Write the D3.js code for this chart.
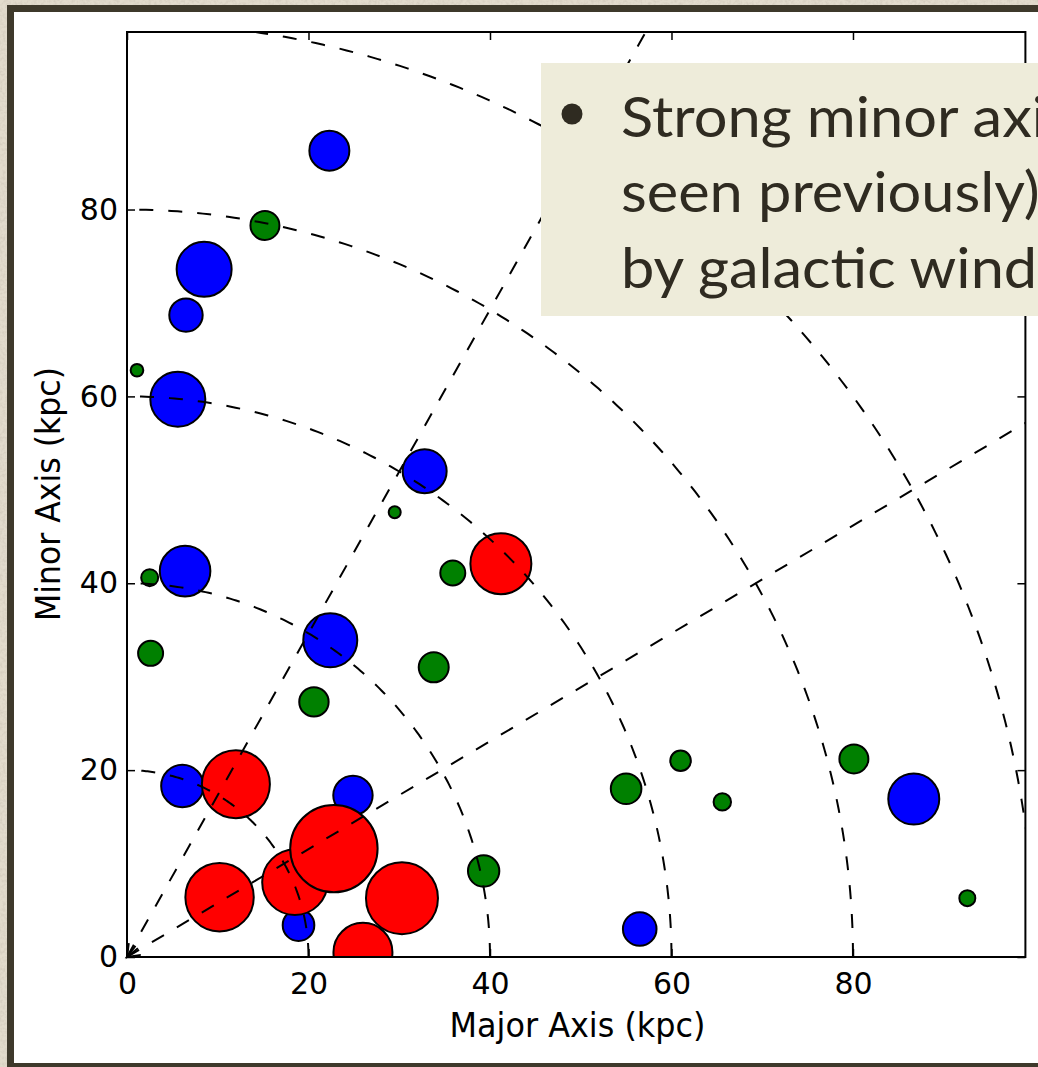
<!DOCTYPE html>
<html>
<head>
<meta charset="utf-8">
<script src="https://cdn.jsdelivr.net/npm/d3@7"></script>
<style>
  html, body { margin: 0; padding: 0; background: #e1dacb; }
  svg { display: block; }
</style>
</head>
<body>
<svg id="slide" width="1038" height="1067"></svg>
<script>
// Absorber positions projected on the galaxy's axes (kpc)
const majorAxis = [22.3, 15.2, 8.5, 6.5, 1.1, 5.6, 32.8, 29.5, 41.2, 35.9, 6.4, 2.5, 2.6, 22.4, 33.8, 20.6, 6.1, 12.0, 24.9, 22.8, 18.5, 10.2, 30.3, 18.9, 26.0, 39.3, 55.0, 61.0, 65.6, 80.1, 86.7, 92.6, 56.5];
const minorAxis = [86.3, 78.3, 73.6, 68.7, 62.8, 59.7, 52.0, 47.6, 42.1, 41.1, 41.3, 40.6, 32.5, 33.9, 31.0, 27.3, 18.3, 18.5, 17.3, 11.6, 8.0, 6.4, 6.3, 3.4, 0.5, 9.2, 18.0, 21.0, 16.6, 21.2, 16.9, 6.3, 3.0];
// marker area (arbitrary units, proportional to absorption strength)
const markerArea = [400, 210, 756, 279, 40, 756, 484, 36, 930, 156, 640, 72, 156, 729, 225, 216, 449, 1156, 388, 1910, 1069, 1170, 1296, 250, 870, 246, 234, 106, 76, 210, 650, 64, 282];
const population = ["b", "g", "b", "b", "g", "b", "b", "g", "r", "g", "b", "g", "g", "b", "g", "g", "b", "r", "b", "r", "r", "r", "r", "b", "r", "g", "g", "g", "g", "g", "b", "g", "b"];
const populationKeys = ["g", "b", "r"];
const populationColors = ["#008000", "#0000ff", "#ff0000"];

const xTicks = [0, 20, 40, 60, 80];
const yTicks = [0, 20, 40, 60, 80];
const ringRadii = [20, 40, 60, 80, 100];
const spokeAngles = [30, 60];

const bulletLines = ["Strong minor axis", "seen previously)", "by galactic winds"];

const svg = d3.select("#slide");
const W = 1038, H = 1067;

// slide background with a light paper grain
const defs = svg.append("defs");
const grain = defs.append("filter").attr("id", "grain").attr("x", 0).attr("y", 0).attr("width", "100%").attr("height", "100%");
grain.append("feTurbulence").attr("type", "fractalNoise").attr("baseFrequency", 0.35).attr("numOctaves", 2).attr("seed", 4).attr("result", "n");
grain.append("feColorMatrix").attr("in", "n").attr("type", "matrix")
  .attr("values", "0 0 0 0 0.55  0 0 0 0 0.5  0 0 0 0 0.42  0 0 0 0.9 -0.35").attr("result", "c");
grain.append("feComposite").attr("in", "c").attr("in2", "SourceGraphic").attr("operator", "in");

svg.append("rect").attr("width", W).attr("height", H).attr("fill", "#e2dbcc");
svg.append("rect").attr("width", W).attr("height", H).attr("fill", "#e2dbcc").attr("filter", "url(#grain)");

// framed picture panel
svg.append("rect")
  .attr("x", 10.5).attr("y", 8.5).attr("width", 1045).attr("height", 1058)
  .attr("fill", "#ffffff").attr("stroke", "#3e392b").attr("stroke-width", 7);

// plot area
const pLeft = 127, pRight = 1025.4, pTop = 32, pBottom = 957;
const x = d3.scaleLinear().domain([0, 99]).range([pLeft, pRight]);
const y = d3.scaleLinear().domain([0, 99]).range([pBottom, pTop]);
const rScale = d3.scaleSqrt().domain([0, 2000]).range([0, Math.sqrt(2000)]);
const color = d3.scaleOrdinal().domain(populationKeys).range(populationColors);

defs.append("clipPath").attr("id", "plotClip")
  .append("rect").attr("x", pLeft).attr("y", pTop).attr("width", pRight - pLeft).attr("height", pBottom - pTop);

const plot = svg.append("g").attr("clip-path", "url(#plotClip)");

// points drawn green, then blue, then red (largest on top)
const pts = majorAxis.map((v, i) => ({ mx: v, my: minorAxis[i], s: markerArea[i], p: population[i] }));
pts.sort((a, b) => {
  const oa = populationKeys.indexOf(a.p), ob = populationKeys.indexOf(b.p);
  return oa !== ob ? oa - ob : a.s - b.s;
});
plot.selectAll("circle.pt").data(pts).join("circle")
  .attr("class", "pt")
  .attr("cx", d => x(d.mx)).attr("cy", d => y(d.my))
  .attr("r", d => rScale(d.s))
  .attr("fill", d => color(d.p))
  .attr("stroke", "#000").attr("stroke-width", 2);

// dashed rings of constant projected distance
const ringLine = d3.line().x(d => x(d[0])).y(d => y(d[1]));
const dash = "14,15";
ringRadii.forEach(R => {
  const arc = d3.range(0, 90.5, 0.5).map(a => [R * Math.cos(a * Math.PI / 180), R * Math.sin(a * Math.PI / 180)]);
  plot.append("path").attr("d", ringLine(arc))
    .attr("fill", "none").attr("stroke", "#000").attr("stroke-width", 2).attr("stroke-dasharray", dash);
});

// dashed spokes at constant azimuth, with an open arrowhead at the centre
spokeAngles.forEach(a => {
  const t = a * Math.PI / 180;
  plot.append("path").attr("d", ringLine([[0, 0], [150 * Math.cos(t), 150 * Math.sin(t)]]))
    .attr("fill", "none").attr("stroke", "#000").attr("stroke-width", 2).attr("stroke-dasharray", dash);
  const dx = x(Math.cos(t)) - x(0), dy = y(Math.sin(t)) - y(0);
  const ang = Math.atan2(dy, dx);
  const L = 14, half = 22 * Math.PI / 180;
  const ox = x(0), oy = y(0);
  const wing = s => [ox + L * Math.cos(ang + s * half), oy + L * Math.sin(ang + s * half)];
  const w1 = wing(1), w2 = wing(-1);
  svg.append("path")
    .attr("d", `M${w1[0]},${w1[1]}L${ox},${oy}L${w2[0]},${w2[1]}`)
    .attr("fill", "none").attr("stroke", "#000").attr("stroke-width", 2);
});

// axes: inward ticks on all four sides
const tickFont = "DejaVu Sans, sans-serif";
function styleAxis(g, labels) {
  g.select(".domain").remove();
  g.selectAll(".tick line").attr("stroke", "#000").attr("stroke-width", 1.5);
  g.selectAll(".tick text").attr("font-family", tickFont).attr("font-size", 30).attr("fill", "#000");
  if (!labels) g.selectAll(".tick text").remove();
}
svg.append("g").attr("transform", `translate(0,${pBottom})`)
  .call(d3.axisBottom(x).tickValues(xTicks).tickFormat(d3.format("d")).tickSizeInner(-8).tickSizeOuter(0).tickPadding(16))
  .call(g => styleAxis(g, true));
svg.append("g").attr("transform", `translate(${pLeft},0)`)
  .call(d3.axisLeft(y).tickValues(yTicks).tickFormat(d3.format("d")).tickSizeInner(-8).tickSizeOuter(0).tickPadding(9))
  .call(g => styleAxis(g, true));
svg.append("g").attr("transform", `translate(0,${pTop})`)
  .call(d3.axisTop(x).tickValues(xTicks).tickSizeInner(-8).tickSizeOuter(0))
  .call(g => styleAxis(g, false));
svg.append("g").attr("transform", `translate(${pRight},0)`)
  .call(d3.axisRight(y).tickValues(yTicks).tickSizeInner(-8).tickSizeOuter(0))
  .call(g => styleAxis(g, false));

// plot frame
svg.append("rect").attr("x", pLeft).attr("y", pTop).attr("width", pRight - pLeft).attr("height", pBottom - pTop)
  .attr("fill", "none").attr("stroke", "#000").attr("stroke-width", 2);

// axis titles
svg.append("text").attr("x", 577.5).attr("y", 1037)
  .attr("text-anchor", "middle").attr("font-family", tickFont).attr("font-size", 34)
  .attr("textLength", 256).attr("lengthAdjust", "spacingAndGlyphs")
  .text("Major Axis (kpc)");
svg.append("text").attr("transform", "translate(60,494) rotate(-90)")
  .attr("text-anchor", "middle").attr("font-family", tickFont).attr("font-size", 34)
  .attr("textLength", 254).attr("lengthAdjust", "spacingAndGlyphs")
  .text("Minor Axis (kpc)");

// slide call-out box
const box = svg.append("g");
box.append("rect").attr("x", 541).attr("y", 63).attr("width", W - 541).attr("height", 253).attr("fill", "#eeecda");
box.append("circle").attr("cx", 572).attr("cy", 114).attr("r", 10.5).attr("fill", "#2f2b21");
const bodyFont = "Lato, 'Open Sans', sans-serif";
const baselines = [136.7, 211.7, 288];
const tx = box.selectAll("text.line").data(bulletLines).join("text")
  .attr("class", "line")
  .attr("font-family", bodyFont).attr("font-size", 56).attr("fill", "#2f2b21")
  .text(d => d);
// horizontal fit so that "Strong minor ax" spans 411 px
const firstNode = tx.nodes()[0];
const sub = firstNode.getSubStringLength(0, "Strong minor ax".length);
const sx = 411 / sub;
tx.attr("transform", (d, i) => `translate(621,${baselines[i]}) scale(${sx},1)`);
</script>
</body>
</html>
